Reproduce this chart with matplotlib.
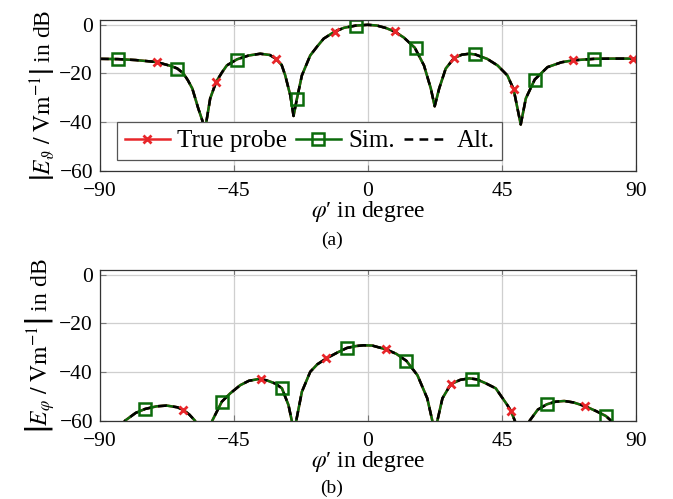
import numpy as np
import matplotlib
matplotlib.use("Agg")
import matplotlib.pyplot as plt
from matplotlib.lines import Line2D

plt.rcParams['font.family'] = ['Liberation Serif', 'DejaVu Serif']
plt.rcParams['mathtext.fontset'] = 'stix'
plt.rcParams['font.size'] = 16

# (a) E_theta, curve
phi_a = [-90, -84, -78, -71, -66, -64, -62, -60.5, -59, -57, -55.6, -55, -54.3, -53, -51, -49, -47.4,
         -44, -40, -36.2, -33, -31, -29, -27.8, -26.1, -25.0, -23.9, -22.2, -19.4, -17, -14.9,
         -11.2, -8, -4, 0, 3, 6, 9, 12, 15.7, 18.8, 21.1, 22.4, 23.9, 26.1, 28.9, 31.5,
         34, 36, 40, 43.5, 46.8, 48.9, 50.2, 51.3, 53.0, 56.0, 60.3, 65, 69, 76, 82, 90]
db_a = [-14.0, -14.1, -14.5, -15.3, -17.0, -18.0, -20.0, -22.8, -26.2, -34.4, -39.5, -45.0, -40.0, -30.3, -23.5, -19.5, -16.7,
        -14.2, -12.6, -11.9, -12.4, -13.9, -16.5, -20.8, -29.0, -37.5, -30.6, -20.8, -12.6, -8.8, -5.7,
        -2.8, -1.2, -0.3, 0.0, -0.3, -1.3, -2.8, -5.2, -9.4, -16.7, -26.2, -33.5, -26.2, -18.0, -13.7, -12.3,
        -11.9, -12.2, -14.0, -16.7, -20.8, -26.5, -34.4, -41.0, -30.3, -22.5, -17.4, -15.4, -14.6, -14.0, -13.9, -13.9]
probe_phi_a = [-71, -51, -31, -11, 9, 29, 49, 69, 89]
probe_db_a = [-15.3, -23.5, -13.9, -2.8, -2.7, -13.7, -26.5, -14.6, -13.9]
sim_phi_a = [-84, -64, -44, -24, -4, 16, 36, 56, 76]
sim_db_a = [-14.0, -18.0, -14.3, -30.6, -0.3, -9.4, -12.2, -22.5, -13.9]

# (b) E_phi
phi_b = [-83, -81.6, -78, -74.9, -71, -67.6, -64, -62, -60, -58.1, -57, -53, -52.3, -49.1, -46.3,
         -42.9, -40, -36.8, -34, -31, -28.9, -26.7, -25.6, -25, -24.1, -22.2, -19.4, -17, -14,
         -10, -7.1, -4, -1.5, 1.4, 5.9, 9.5, 12.9, 16.6, 19.9, 21.6, 22.4, 23.3, 25.0, 27.8,
         31, 34, 36.5, 39.5, 42.9, 46.8, 48.0, 49.3, 50.5, 53, 54.3, 57, 60, 63, 65.9, 69,
         72.8, 76.5, 79.9, 81.6, 83]
db_b = [-63, -60, -56.8, -55.2, -54.1, -53.8, -54.5, -55.6, -57.5, -60, -63, -63, -60, -52.2, -48.8,
        -45.4, -43.6, -42.9, -43.4, -44.8, -46.7, -53.6, -60, -66, -60, -48.1, -39.9, -36.8, -34.4,
        -31.8, -30.1, -29.3, -29.0, -29.1, -30.6, -32.5, -35.4, -41.3, -50.8, -60, -66, -60, -50.8, -45.0,
        -43.2, -42.6, -43.0, -44.6, -46.7, -53.6, -56.0, -60, -64, -64, -60, -55.5, -53.3, -52.2, -51.9, -52.5,
        -54.0, -56.0, -58.1, -60, -62]
probe_phi_b = [-62, -36, -14, 5.9, 27.8, 48, 72.8]
probe_db_b = [-55.6, -43.0, -34.4, -30.6, -45.0, -56.0, -54.0]
sim_phi_b = [-74.9, -49.1, -28.9, -7.1, 12.9, 34.8, 60, 79.9]
sim_db_b = [-55.2, -52.2, -46.7, -30.1, -35.4, -42.9, -53.3, -58.1]

red = "#e8262a"
green = "#0b6b0b"

fig = plt.figure(figsize=(6.73, 4.99), dpi=100)
ax1 = fig.add_axes([0.1486, 0.658, 0.7964, 0.302])
ax2 = fig.add_axes([0.1486, 0.157, 0.7964, 0.302])


def draw(ax, phi, db, pp, pd, sp, sd, ylab):
    ax.plot(phi, db, color=red, lw=1.8)
    ax.plot(phi, db, color=green, lw=1.8)
    ax.plot(phi, db, color="black", lw=1.8, ls=(0, (3.5, 2.5)))
    ax.plot(pp, pd, ls="none", marker="x", ms=6, mew=2, color=red)
    ax.plot(sp, sd, ls="none", marker="s", ms=9, mew=1.8, mfc="none", mec=green)
    ax.set_xlim(-90, 90)
    ax.set_ylim(-60, 2)
    ax.set_xticks([-90, -45, 0, 45, 90])
    ax.set_yticks([-60, -40, -20, 0])
    ax.grid(True, color="#cfcfcf", lw=0.9)
    ax.tick_params(direction="in", length=4, color="#777777", top=True, right=True,
                   labelsize=15.5)
    ax.tick_params(axis="x", pad=8)
    ax.tick_params(axis="y", pad=5)
    for s in ax.spines.values():
        s.set_color("#333333")
        s.set_linewidth(0.9)
    ax.set_xlabel(r"$\varphi$′ in degree", labelpad=-1, fontsize=17)
    ax.set_ylabel(ylab, labelpad=2, fontsize=17)


draw(ax1, phi_a, db_a, probe_phi_a, probe_db_a, sim_phi_a, sim_db_a,
     r"$\left|E_{\vartheta}\ /\ \mathrm{Vm}^{-1}\right|$ in dB")
draw(ax2, phi_b, db_b, probe_phi_b, probe_db_b, sim_phi_b, sim_db_b,
     r"$\left|E_{\varphi}\ /\ \mathrm{Vm}^{-1}\right|$ in dB")

handles = [
    Line2D([], [], color=red, lw=1.8, marker="x", ms=6, mew=2),
    Line2D([], [], color=green, lw=1.8, marker="s", ms=9, mew=1.8, mfc="none"),
    Line2D([], [], color="black", lw=1.8, ls=(0, (3.5, 2.5))),
]
leg = ax1.legend(handles, ["True probe", "Sim.", "Alt."], ncol=3, loc="lower left",
                 bbox_to_anchor=(0.032, 0.071), borderaxespad=0, fancybox=False,
                 edgecolor="#555555", framealpha=1, handlelength=1.8, columnspacing=0.35,
                 handletextpad=0.3, borderpad=0.3, fontsize=18)
leg.get_frame().set_linewidth(0.9)

fig.text(0.493, 0.519, "(a)", ha="center", va="center", fontsize=14)
fig.text(0.493, 0.022, "(b)", ha="center", va="center", fontsize=14)

fig.savefig("out.png", dpi=100)
